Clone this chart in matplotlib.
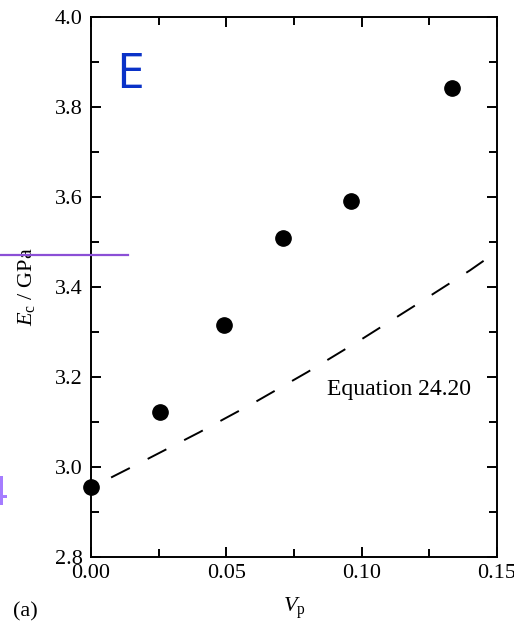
import numpy as np
import matplotlib
matplotlib.use("Agg")
import matplotlib.pyplot as plt
from matplotlib.lines import Line2D
from matplotlib.ticker import MultipleLocator

plt.rcParams["font.family"] = "serif"
plt.rcParams["font.serif"] = ["Liberation Serif", "DejaVu Serif"]
plt.rcParams["mathtext.fontset"] = "custom"
plt.rcParams["mathtext.rm"] = "Liberation Serif"
plt.rcParams["mathtext.it"] = "Liberation Serif:italic"
plt.rcParams.update({'font.size': 16})

# measured points
vp = [0.0, 0.0255, 0.049, 0.0708, 0.096, 0.1334]
ec = [2.956, 3.122, 3.316, 3.509, 3.591, 3.842]

# Equation 24.20 curve
vp_eq = [0.0, 0.02, 0.04, 0.06, 0.08, 0.10, 0.12, 0.14, 0.15]
ec_eq = [2.954, 3.015, 3.077, 3.142, 3.211, 3.284, 3.360, 3.437, 3.479]

fig = plt.figure(figsize=(5.14, 6.25), dpi=100)
ax = fig.add_axes([0.177, 0.1088, 0.79, 0.864])

ax.plot(vp_eq, ec_eq, c="black", linewidth=1.4, linestyle=(9.5, (10.8, 10.3)))
ax.plot(vp, ec, linestyle="none", marker="o", markersize=11, c="black", zorder=3, clip_on=False)

ax.set_xlim(0, 0.15)
ax.set_ylim(2.8, 4.0)
ax.xaxis.set_major_locator(MultipleLocator(0.05))
ax.xaxis.set_minor_locator(MultipleLocator(0.025))
ax.yaxis.set_major_locator(MultipleLocator(0.2))
ax.yaxis.set_minor_locator(MultipleLocator(0.1))
ax.xaxis.set_major_formatter(matplotlib.ticker.FormatStrFormatter("%.2f"))
ax.yaxis.set_major_formatter(matplotlib.ticker.FormatStrFormatter("%.1f"))
ax.tick_params(which="both", direction="in", top=True, right=True, width=1.4)
ax.tick_params(which="major", length=7)
ax.tick_params(which="minor", length=5.5)
ax.tick_params(axis="y", pad=6)
ax.tick_params(axis="x", pad=5)
for s in ax.spines.values():
    s.set_linewidth(1.4)

ax.set_xlabel(r"$V_{\mathrm{p}}$", labelpad=9)
ax.set_ylabel(r"$E_{\mathrm{c}}$ / GPa", labelpad=13)
ax.text(0.0871, 3.16, "Equation 24.20", fontsize=17, va="baseline", ha="left")

# overlays
ax.text(0.0092, 3.870, "E", fontsize=36, color="#0a32c8", family="Open Sans", va="center", ha="left")
fig.text(13/514, 1-612/625, "(a)", fontsize=16, va="center", ha="left")
fig.add_artist(Line2D([0, 128/514], [1-255/625, 1-255/625], color="#8b4fd6", linewidth=1.6))
fig.text(8/514, 1-494/625, "4", fontsize=30, color="#a57cff", family="Liberation Sans", va="center", ha="right")

plt.savefig("out.png")
